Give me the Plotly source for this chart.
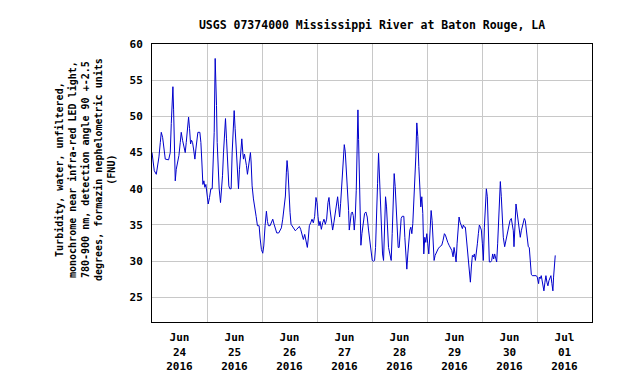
import pandas as pd
import plotly.graph_objects as go

title_text = "USGS 07374000 Mississippi River at Baton Rouge, LA"
y_label = ("Turbidity, water, unfiltered,<br>monochrome near infra-red LED light,<br>"
           "780-900 nm, detection angle 90 +-2.5<br>degrees, formazin nephelometric units<br>(FNU)")
start_time = "2016-06-24 00:00"
x_range = ["2016-06-24 00:00", "2016-07-02 00:00"]
y_range = [21.6, 60]
y_ticks = [25, 30, 35, 40, 45, 50, 55, 60]

# hours since 2016-06-24 00:00
hours = [
    0.0, 0.42, 1.00, 1.87, 2.45, 3.03, 3.62, 4.05, 4.63, 5.36, 5.79, 7.25, 7.97, 8.41, 8.84, 9.13,
    9.42, 9.71, 10.15, 10.58, 11.17, 11.75, 12.33, 12.76, 13.34, 13.92, 14.50, 14.94, 15.52, 15.96,
    16.39, 16.83, 17.26, 17.70, 18.13, 18.72, 19.15, 19.59, 20.02, 20.89, 21.33, 21.76, 22.20, 22.64,
    23.07, 23.51, 23.94, 24.52, 25.10, 25.68, 26.27, 26.70, 27.14, 27.57, 27.86, 28.15, 28.44, 28.88,
    29.31, 29.90, 30.33, 30.77, 31.20, 31.64, 32.07, 32.51, 32.94, 33.53, 33.96, 34.54, 34.98, 35.41,
    35.85, 36.28, 36.72, 37.30, 37.74, 38.17, 38.61,
    38.75, 39.19, 39.62, 39.91, 40.35, 40.78, 41.22, 41.65, 42.09, 42.53, 42.96, 43.25, 43.69, 44.27,
    44.85, 45.43, 46.01, 46.74, 47.17, 47.75, 48.33, 48.77, 49.35, 49.93, 50.37, 50.80, 51.53, 52.11,
    52.69, 53.27, 53.85, 54.43, 55.30, 55.88, 56.46, 57.04, 57.63, 58.21, 58.64, 58.93, 59.37, 59.80,
    60.24, 60.67, 61.40, 61.98, 62.56, 63.14, 63.72, 64.30, 64.88, 65.46, 66.05, 66.63, 67.21, 67.79,
    68.22, 68.66, 69.24, 69.82, 70.40, 70.98, 71.56, 72.00, 72.43, 72.87, 73.31, 73.89, 74.47, 75.05,
    75.63, 76.21, 76.79, 77.23, 77.66,
    78.24, 78.82, 79.40, 79.98, 80.56, 81.00, 81.43, 81.87, 82.31, 82.74, 83.18, 83.61, 83.90, 84.34,
    84.77, 85.21, 85.79, 86.08, 86.52, 86.95, 87.39, 87.82, 88.26, 88.69, 89.13, 89.57, 89.86, 90.15,
    90.44, 90.87, 91.16, 91.60, 92.18, 92.76, 93.34, 93.92, 94.50, 95.08, 95.66, 96.10, 96.68, 97.12,
    97.55, 97.99, 98.42, 98.86, 99.29, 99.73, 100.16, 100.60, 101.04, 101.47, 101.91, 102.34, 102.78,
    103.21, 103.79, 104.38, 104.81, 105.25, 105.68, 106.12, 106.55, 106.99, 107.42, 107.86, 108.29,
    108.73, 109.17, 109.89, 110.33, 110.76, 111.20, 111.63, 112.07, 112.51, 112.94, 113.38, 113.81,
    114.25, 114.68, 115.12, 115.55, 115.99, 116.43, 116.86,
    117.30, 117.73, 118.17, 118.60, 119.04, 119.47, 119.91, 120.34, 120.78, 121.36, 121.80, 122.23,
    122.67, 123.10, 123.54, 124.12, 124.85, 125.57, 126.44, 127.02, 127.60, 128.04, 128.48, 129.06,
    129.64, 130.22, 130.80, 131.38, 131.81, 132.25, 132.69, 133.12, 133.56, 133.99, 134.43, 134.86,
    135.44, 135.88, 136.32, 136.75, 137.19, 137.62, 138.06, 138.49, 138.93, 139.36, 139.80, 140.24,
    140.67, 141.11, 141.54, 141.98, 142.41, 142.85, 143.28, 143.72, 144.16, 144.59, 145.03, 145.46,
    145.90, 146.33, 146.77, 147.20, 147.79, 148.22, 148.66, 149.09, 149.53, 149.96, 150.40, 150.83,
    151.27, 151.71, 152.00, 152.43, 152.87, 153.30,
    153.89, 154.47, 155.05, 155.63, 156.21, 156.79, 157.23, 157.66, 157.96, 158.39, 158.83, 159.12,
    159.41, 159.84, 160.28, 160.71, 161.15, 161.58, 162.02, 162.46, 162.89, 163.33, 163.76, 164.20,
    164.63, 165.07, 165.51, 165.94, 166.52, 167.10, 167.68, 168.12, 168.41, 168.70, 168.99, 169.43,
    169.86, 170.15, 170.59, 171.02, 171.46, 171.89, 172.33, 172.76, 173.20, 173.64, 174.07, 174.51,
    174.94, 175.23, 175.52, 175.96,
]

turbidity = [
    45, 43.7, 42.5, 42.0, 43.2, 44.4, 46.4, 47.8, 47.1, 45, 44.1, 44.0, 45, 49, 52.5, 54.1,
    51, 46, 41.1, 42.7, 43.7, 44.6, 46.4, 47.8, 46.7, 46, 45, 46.4, 48.3, 49.9,
    48.3, 46.2, 46.7, 46.4, 45.5, 44.1, 45.5, 46.9, 47.8, 47.8, 46.4, 43.7, 40.6, 41.1,
    40.2, 40.6, 39.0, 37.9, 38.8, 40, 40, 43.2, 47.8, 58, 55.2, 51.5, 46.4, 42.7,
    40, 38.1, 39.5, 41.8, 45, 47.8, 49.7, 46.9, 43.2, 40.4, 40, 40, 45, 48.3,
    50.8, 48.3, 45.5, 41.3, 40, 42.7, 45,
    46, 46.9, 45, 44.1, 44.8, 44.1, 43.2, 42, 43, 44.1, 45, 43.7, 40.4, 38.6,
    37.6, 36.2, 34.9, 34.9, 33.2, 31.6, 31.1, 32.1, 34.9, 36.9, 35.5, 34.9, 34.9, 35.5,
    35.8, 35.1, 34.4, 33.9, 33.9, 34.2, 34.6, 35.8, 37.2, 39, 42.3, 43.9, 42.3, 39,
    36.7, 35.1, 34.8, 34.6, 34.2, 34.4, 34.6, 34.8, 34.4, 33.7, 33, 33.7, 32.8, 31.9,
    33.2, 34.9, 35.3, 35.8, 35.3, 36.2, 38.8, 38.1, 36.2, 34.9, 35.5, 34.4, 35.3, 35.8,
    35.1, 35.8, 38.1, 38.8, 37.2,
    35.2, 34.3, 35.4, 36.6, 38.4, 38.9, 37.5, 36.1, 38, 40.3, 42.6, 44.9, 46.1, 45.1,
    43.1, 39.8, 37, 34.3, 35.2, 36.6, 36.8, 36.3, 34.3, 36.1, 39.8, 47.7, 50.9, 46.8,
    40.7, 34.7, 32.2, 33.8, 35.2, 36.6, 36.8, 36.1, 34.3, 32.4, 31, 30.1, 30.0, 30.1,
    31.9, 35.2, 40.7, 44.9, 41.7, 37, 33.3, 31, 30.1, 33.3, 38.9, 37.5, 34.3,
    31.9, 31, 30.1, 33.8, 38.9, 42.1, 40.3, 37, 33.3, 31.9, 31.9, 34.3,
    35.9, 36.2, 36.2, 33.3, 30.5, 28.9, 31, 32.9, 34.3, 34.7, 33.8, 35.2,
    38, 41.2, 44.4, 49.1, 47.2, 43.1, 38.9,
    37.5, 38.9, 36.6, 31, 33.3, 32.6, 33.8, 32.4, 31, 34.3, 37, 35.6,
    32.4, 30.1, 30.8, 31.3, 31.7, 32, 32.2, 32.9, 33.8, 33.6, 33.1, 32.6,
    32.2, 31.9, 31.5, 30.6, 31.9, 31, 29.9, 32.4, 35.2, 36.1, 35.4, 35,
    34.5, 35, 34.7, 34.7, 33.3, 31.5, 30.6, 29.2, 27.1, 29.2, 30.8, 30.6,
    31, 30.1, 31, 32.4, 33.8, 35, 34.7, 34.3, 32.4, 30.1, 34.7, 37.5,
    40, 38.9, 32.4, 29.9, 29.9, 30.1, 31, 30.3, 31, 30.6, 29.9, 32.4,
    35.6, 39.4, 41, 38.9, 35.6, 33.3,
    32, 32.9, 34, 34.9, 35.6, 35.9, 35.2, 34.2, 32, 35.9, 37.9, 37.2,
    36.5, 35.2, 34.2, 33.3, 34.2, 34.7, 35.4, 35.9, 35.6, 34.2, 32.9, 32,
    31.9, 30.5, 28.2, 28, 28, 28, 28, 27.8, 27.3, 26.9, 27.8, 27.6,
    28, 27.3, 26.6, 25.9, 27.1, 28, 27.1, 26.6, 27.3, 27.8, 28, 26.9,
    25.9, 27.8, 29.6, 30.8,
]

times = pd.Timestamp(start_time) + pd.to_timedelta(hours, unit="h")

mono = "DejaVu Sans Mono"

fig = go.Figure()
fig.add_trace(go.Scatter(
    x=times, y=turbidity, mode="lines",
    line=dict(color="#0000cc", width=1),
    hoverinfo="skip", showlegend=False,
))

fig.update_layout(
    width=620, height=372,
    margin=dict(l=152, r=28, t=44, b=50, autoexpand=False),
    paper_bgcolor="white", plot_bgcolor="white",
    title=dict(text=title_text, x=0.5, xref="paper", y=1 - 25 / 372, yref="container",
               xanchor="center", yanchor="middle",
               font=dict(family=mono, size=11.5, color="black", weight="bold")),
    font=dict(family=mono, color="black"),
)

fig.update_xaxes(
    type="date", range=x_range, automargin=False,
    tick0="2016-06-24", dtick=86400000, ticklabelmode="period",
    tickformat="%b<br>%d<br>%Y",
    showgrid=True, gridcolor="#c8c8c8", gridwidth=1,
    showline=True, linecolor="black", linewidth=1, mirror=True,
    ticks="", ticklabelstandoff=5,
    tickfont=dict(family=mono, size=11, color="black", weight="bold"),
    zeroline=False,
)
fig.update_yaxes(
    range=y_range, tickvals=y_ticks, automargin=False,
    showgrid=True, gridcolor="#c8c8c8", gridwidth=1,
    showline=True, linecolor="black", linewidth=1, mirror=True,
    ticks="", ticklabelstandoff=6,
    tickfont=dict(family=mono, size=11, color="black", weight="bold"),
    zeroline=False,
)

fig.add_annotation(
    text=y_label, textangle=-90,
    xref="paper", yref="paper", x=(85 - 152) / 440, y=(322 - 170) / 278,
    xanchor="center", yanchor="middle", showarrow=False, align="center",
    font=dict(family=mono, size=10, color="black", weight="bold"),
)

fig.write_html("out.html", config={"displayModeBar": False, "staticPlot": True},
               post_script="document.body.style.margin='0';")
